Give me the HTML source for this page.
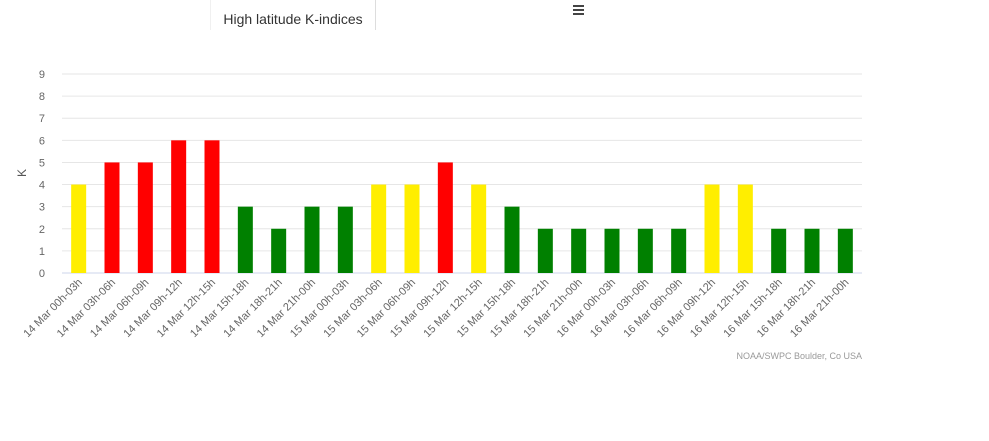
<!DOCTYPE html>
<html><head><meta charset="utf-8"><style>
body{margin:0;background:#fff;font-family:"Liberation Sans",sans-serif;}
#wrap{position:relative;width:989px;height:441px;overflow:hidden}
.title{position:absolute;left:210px;top:0;width:164px;height:30px;border-right:1px solid #ddd;border-left:1px solid #f0f0f0;font-size:14px;color:#333;text-align:center;line-height:38px}
</style></head><body>
<div id="wrap">
<div class="title">High latitude K-indices</div>
<svg id="chart" width="989" height="441" style="position:absolute;left:0;top:0">
<g fill="#444"><rect x="573" y="5" width="11" height="2"/><rect x="573" y="9" width="11" height="2"/><rect x="573" y="13" width="11" height="2"/></g>
<text x="26" y="173" transform="rotate(-90 26 173)" font-size="12" fill="#555" text-anchor="middle">K</text>
<text x="862" y="359" font-size="9" fill="#999" text-anchor="end">NOAA/SWPC Boulder, Co USA</text>
</svg>
</div>
<script>
const categories=["14 Mar 00h-03h","14 Mar 03h-06h","14 Mar 06h-09h","14 Mar 09h-12h","14 Mar 12h-15h","14 Mar 15h-18h","14 Mar 18h-21h","14 Mar 21h-00h","15 Mar 00h-03h","15 Mar 03h-06h","15 Mar 06h-09h","15 Mar 09h-12h","15 Mar 12h-15h","15 Mar 15h-18h","15 Mar 18h-21h","15 Mar 21h-00h","16 Mar 00h-03h","16 Mar 03h-06h","16 Mar 06h-09h","16 Mar 09h-12h","16 Mar 12h-15h","16 Mar 15h-18h","16 Mar 18h-21h","16 Mar 21h-00h"];
const kValues=[4,5,5,6,6,3,2,3,3,4,4,5,4,3,2,2,2,2,2,4,4,2,2,2];
const yTicks=[0,1,2,3,4,5,6,7,8,9];
const svg=document.getElementById('chart');
const NS='http://www.w3.org/2000/svg';
const x0=62,x1=862,y0=273,y9=74;
const yS=v=>y0-(y0-y9)*v/9;
const slot=(x1-x0)/categories.length;
const xC=i=>x0+slot*(i+0.5);
function mk(t,a){const e=document.createElementNS(NS,t);for(const k in a)e.setAttribute(k,a[k]);svg.appendChild(e);return e;}
yTicks.forEach(v=>{
  const l=mk('line',{x1:x0,x2:x1,y1:yS(v),y2:yS(v),stroke:v===0?'#ccd6eb':'#e6e6e6','stroke-width':1});
  
  
  const t=mk('text',{x:45,y:yS(v)+4,'font-size':11,fill:'#666','text-anchor':'end'});
  t.textContent=v;
  
  
});
kValues.forEach((v,i)=>{
  const col=v>=5?'#ff0000':v===4?'#ffee00':'#008000';
  const b=mk('rect',{x:xC(i)-7.5,y:yS(v),width:15,height:y0-yS(v),fill:col});
  
  
  const tx=xC(i)+4,ty=y0+10;
  const t=mk('text',{x:tx,y:ty,'font-size':11,fill:'#666','text-anchor':'end',transform:`rotate(-45 ${tx} ${ty})`});
  t.textContent=categories[i];
  
  
});
</script>
</body></html>
